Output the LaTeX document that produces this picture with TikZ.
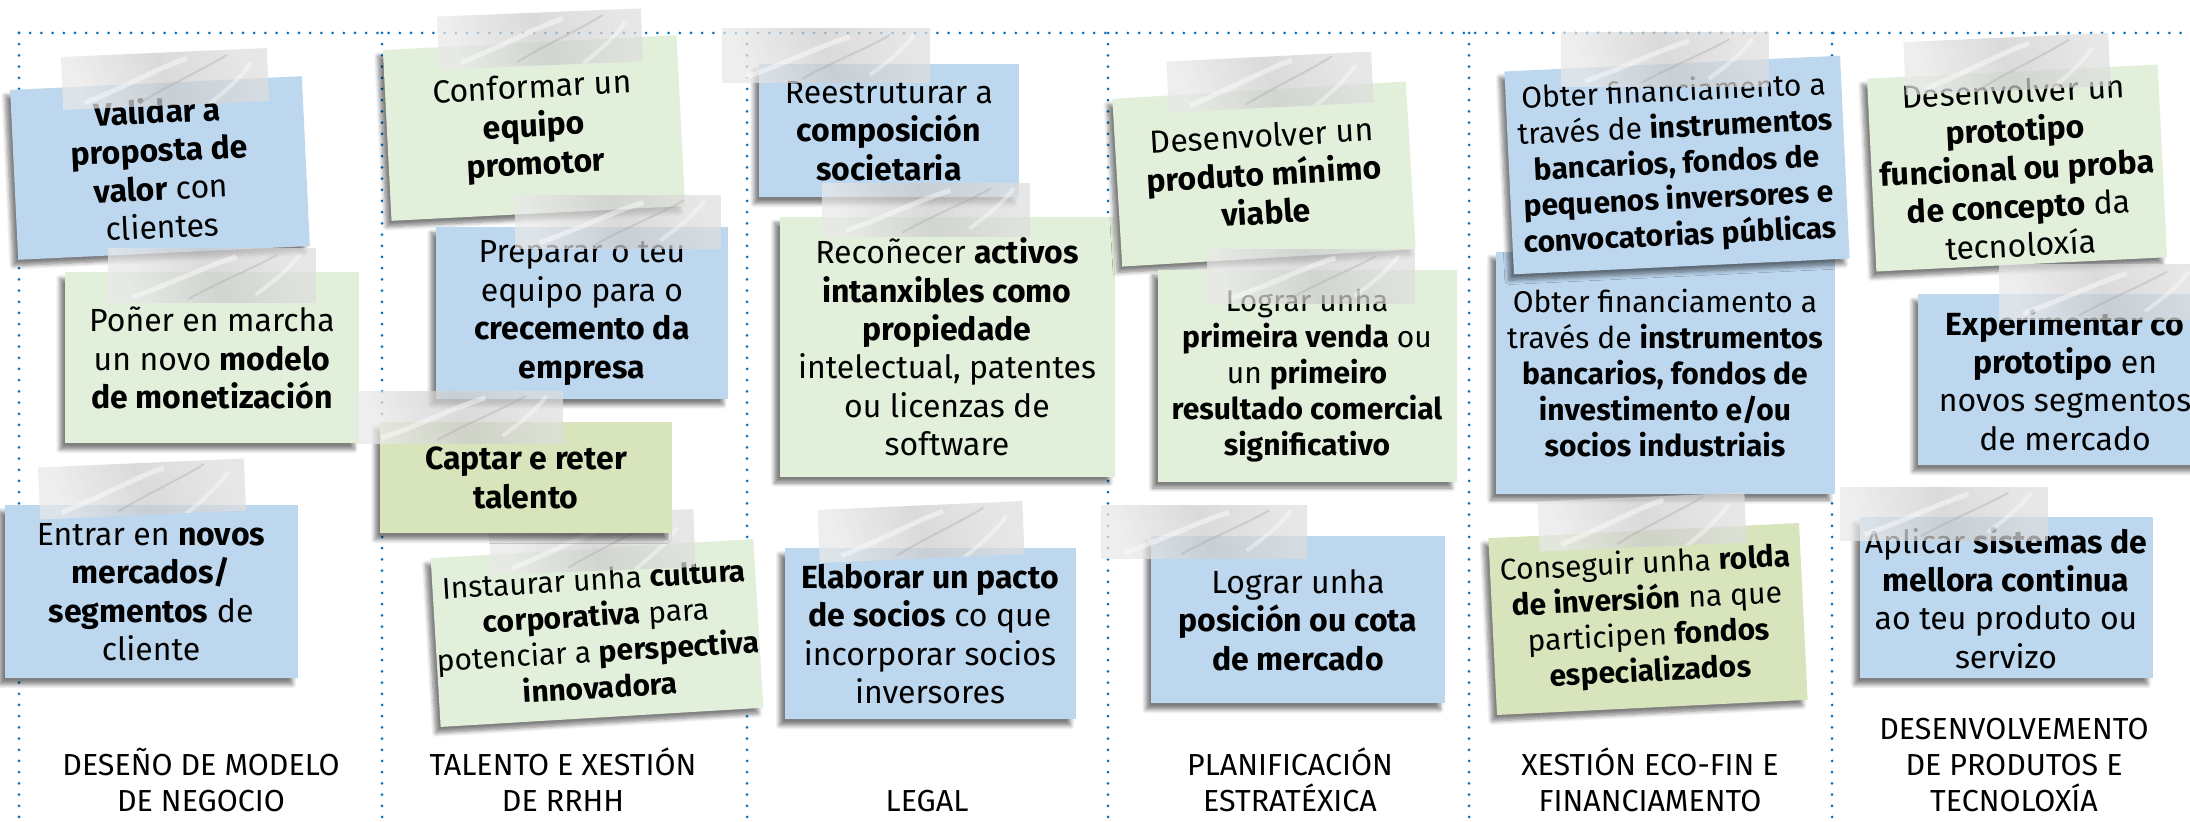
\documentclass[tikz,border=0pt]{standalone}
\usepackage{fontspec}
\setmainfont{Fira Sans}
\usepackage{tikz}
\usetikzlibrary{shadows.blur}
\definecolor{azulnota}{HTML}{BDD7EE}
\definecolor{verdenota}{HTML}{E2EFDA}
\definecolor{olivanota}{HTML}{D8E4BC}
\definecolor{liñaazul}{HTML}{0070C0}
\tikzset{
  nota/.style 2 args={minimum width=#1*0.5pt, minimum height=#2*0.5pt, inner sep=0pt, align=center,
    font=\fontsize{16}{19.2}\selectfont,
    blur shadow={shadow xshift=-2.5pt, shadow yshift=-3pt, shadow blur steps=6, shadow opacity=50}},
  menor/.style={font=\fontsize{15}{18}\selectfont},
  azul/.style={fill=azulnota},
  verde/.style={fill=verdenota},
  oliva/.style={fill=olivanota},
  cinta/.style 2 args={minimum width=#1*0.5pt, minimum height=#2*0.5pt, inner sep=0pt,
    shading=axis, top color=gray!18, bottom color=gray!26, middle color=gray!40, shading angle=110,
    fill opacity=0.72,
    path picture={
      \draw[white, line width=2.5pt, opacity=0.45]
        ([xshift=12pt, yshift=3pt]path picture bounding box.south west)
        .. controls +(18pt,6pt) and +(-14pt,-4pt) .. +(52pt,20pt);
      \draw[gray!70, line width=1pt, opacity=0.35]
        ([xshift=40pt, yshift=2pt]path picture bounding box.south west)
        .. controls +(14pt,8pt) and +(-10pt,-6pt) .. +(44pt,22pt);
      \draw[white, line width=2pt, opacity=0.4]
        ([xshift=-30pt, yshift=4pt]path picture bounding box.south east)
        .. controls +(8pt,6pt) and +(-6pt,-8pt) .. +(22pt,20pt);
    }},
  punteado/.style={liñaazul, line width=1.5pt, line cap=round, dash pattern=on 0pt off 5.6pt},
  rotulo/.style={anchor=south, align=center, inner sep=0pt, font=\fontsize{15.2}{18}\selectfont}
}
\begin{document}
\begin{tikzpicture}[x=0.5pt, y=-0.5pt]
\useasboundingbox (0,0) rectangle (2190,822);

\draw[punteado] (19,33) -- (2190,33);
\foreach \x in {19,382,747,1108,1469,1832}
  \draw[punteado] (\x,33) -- (\x,822);

\node[rotulo] (deseno) at (201,812) {DESEÑO DE MODELO\\DE NEGOCIO};
\node[rotulo] (talento) at (563,812) {TALENTO E XESTIÓN\\DE RRHH};
\node[rotulo] (legal) at (927,812) {LEGAL};
\node[rotulo] (planif) at (1290,812) {PLANIFICACIÓN\\ESTRATÉXICA};
\node[rotulo] (ecofin) at (1650,812) {XESTIÓN ECO-FIN E\\FINANCIAMENTO};
\node[rotulo] (desenv) at (2014,812) {DESENVOLVEMENTO\\DE PRODUTOS E\\TECNOLOXÍA};

% deseño de modelo de negocio
\node[nota={292}{170}, azul, rotate=2.7] (validar) at (160,168) {\textbf{Validar a}\\\textbf{proposta de}\\\textbf{valor} con\\clientes};
\node[cinta={206}{53}, rotate=2.5] (cvalidar) at (165,79) {};
\node[nota={294}{171}, verde] (poner) at (212,358) {Poñer en marcha\\un novo \textbf{modelo}\\\textbf{de monetización}};
\node[cinta={207}{54}] (cponer) at (212,276) {};
\node[nota={293}{173}, azul] (entrar) at (151,592) {Entrar en \textbf{novos}\\\textbf{mercados/}\\\textbf{segmentos} de\\cliente};
\node[cinta={206}{52}, rotate=2.5] (centrar) at (142,489) {};

% talento e xestion de rrhh
\node[nota={294}{171}, verde, rotate=2.9] (conformar) at (534,128) {Conformar un\\\textbf{equipo}\\\textbf{promotor}};
\node[cinta={204}{53}, rotate=2.3] (cconformar) at (540,39) {};
\node[nota={292}{172}, azul] (preparar) at (582,313) {Preparar o teu\\equipo para o\\\textbf{crecemento da}\\\textbf{empresa}};
\node[nota={318}{169}, verde, menor, rotate=3.4] (instaurar) at (597,633) {Instaurar unha \textbf{cultura}\\\textbf{corporativa} para\\potenciar a \textbf{perspectiva}\\\textbf{innovadora}};
\node[cinta={205}{58}, rotate=2.2] (cinstaurar) at (592,542) {};
\node[nota={292}{111}, oliva] (captar) at (526,478) {\textbf{Captar e reter}\\\textbf{talento}};
\node[cinta={205}{53}] (cpreparar) at (618,222) {};
\node[cinta={205}{52}] (ccaptar) at (460,418) {};

% legal
\node[nota={260}{133}, azul] (reestruturar) at (889,131) {Reestruturar a\\\textbf{composición}\\\textbf{societaria}};
\node[cinta={208}{54}] (creestruturar) at (826,56) {};
\node[nota={335}{260}, verde] (reconecer) at (947,347) {Recoñecer \textbf{activos}\\\textbf{intanxibles como}\\\textbf{propiedade}\\intelectual, patentes\\ou licenzas de\\software};
\node[cinta={207}{53}] (creconecer) at (926,210) {};
\node[nota={291}{171}, azul] (elaborar) at (930,634) {\textbf{Elaborar un pacto}\\\textbf{de socios} co que\\incorporar socios\\inversores};
\node[cinta={205}{53}, rotate=2.5] (celaborar) at (921,532) {};

% planificacion estratexica
\node[nota={294}{168}, verde, rotate=3.4] (produto) at (1264,174) {Desenvolver un\\\textbf{produto mínimo}\\\textbf{viable}};
\node[cinta={205}{51}, rotate=2.8] (cproduto) at (1270,82) {};
\node[nota={299}{212}, verde, menor] (venda) at (1307,376) {Lograr unha\\\textbf{primeira venda} ou\\un \textbf{primeiro}\\\textbf{resultado comercial}\\\textbf{significativo}};
\node[cinta={207}{54}] (cvenda) at (1311,277) {};
\node[nota={294}{167}, azul] (posicion) at (1298,620) {Lograr unha\\\textbf{posición ou cota}\\\textbf{de mercado}};
\node[cinta={206}{53}] (cposicion) at (1204,532) {};

% xestion eco-fin e financiamento
\node[nota={339}{242}, azul, menor] (obterdous) at (1665,373) {Obter financiamento a\\través de \textbf{instrumentos}\\\textbf{bancarios, fondos de}\\\textbf{investimento e/ou}\\\textbf{socios industriais}};
\node[nota={336}{203}, azul, menor, rotate=2.7] (obterun) at (1677,165) {Obter financiamento a\\través de \textbf{instrumentos}\\\textbf{bancarios, fondos de}\\\textbf{pequenos inversores e}\\\textbf{convocatorias públicas}};
\node[cinta={207}{54}] (cobterun) at (1665,60) {};
\node[nota={311}{177}, oliva, menor, rotate=2.8] (rolda) at (1648,619) {Conseguir unha \textbf{rolda}\\\textbf{de inversión} na que\\participen \textbf{fondos}\\\textbf{especializados}};
\node[cinta={207}{50}, rotate=2.5] (crolda) at (1642,522) {};

% desenvolvemento de produtos e tecnoloxia
\node[nota={291}{193}, verde, rotate=2.8] (prototipo) at (2017,168) {Desenvolver un\\\textbf{prototipo}\\\textbf{funcional ou proba}\\\textbf{de concepto} da\\tecnoloxía};
\node[cinta={205}{53}, rotate=2.6] (cprototipo) at (2007,64) {};
\node[nota={294}{171}, azul] (experimentar) at (2065,380) {\textbf{Experimentar co}\\\textbf{prototipo} en\\novos segmentos\\de mercado};
\node[cinta={206}{55}] (cexperimentar) at (2102,292) {};
\node[nota={293}{161}, azul] (aplicar) at (2006,598) {Aplicar \textbf{sistemas de}\\\textbf{mellora continua}\\ao teu produto ou\\servizo};
\node[cinta={207}{53}] (caplicar) at (1944,514) {};
\end{tikzpicture}
\end{document}
